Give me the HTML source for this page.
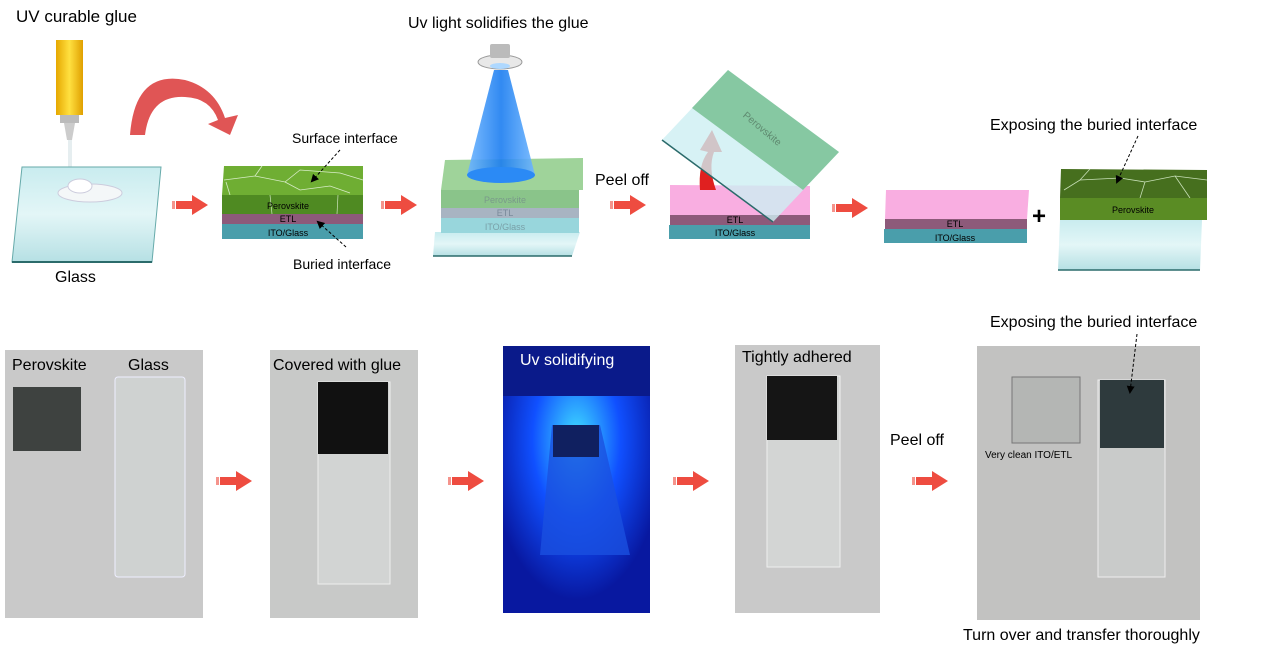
<!DOCTYPE html>
<html><head><meta charset="utf-8"><style>
html,body{margin:0;padding:0;background:#fff;}
svg{display:block;font-family:"Liberation Sans",Arial,sans-serif;}
</style></head><body>
<svg width="1280" height="655" viewBox="0 0 1280 655" xmlns="http://www.w3.org/2000/svg">
<defs>
<linearGradient id="gl" x1="0" y1="0" x2="0" y2="1"><stop offset="0" stop-color="#c9ecef"/><stop offset="0.5" stop-color="#e3f6f7"/><stop offset="1" stop-color="#b6e0e4"/></linearGradient>
<linearGradient id="tube" x1="0" y1="0" x2="1" y2="0"><stop offset="0" stop-color="#e6a800"/><stop offset="0.5" stop-color="#ffe040"/><stop offset="1" stop-color="#e0a000"/></linearGradient>
<linearGradient id="cone" x1="0" y1="0" x2="1" y2="0"><stop offset="0" stop-color="#6fb6ff"/><stop offset="0.5" stop-color="#1b7df0"/><stop offset="1" stop-color="#6fb6ff"/></linearGradient>
<radialGradient id="uvg" cx="0.5" cy="0.35" r="0.6"><stop offset="0" stop-color="#40e0ff"/><stop offset="0.5" stop-color="#1050ff"/><stop offset="1" stop-color="#0818a0"/></radialGradient>
<marker id="ah" markerWidth="8" markerHeight="8" refX="6" refY="4" orient="auto"><path d="M0,0 L8,4 L0,8 Z" fill="#000"/></marker>
<g id="rarr"><rect x="0" y="-4" width="3" height="8" fill="#ee4c40" opacity="0.6"/><rect x="4" y="-4" width="18" height="8" fill="#ee4c40"/><path d="M20,-10 L36,0 L20,10 Z" fill="#ee4c40"/></g>
</defs>

<text x="16" y="22" font-size="17">UV curable glue</text>
<rect x="56" y="40" width="27" height="75" fill="url(#tube)"/>
<rect x="60" y="115" width="19" height="8" fill="#bbb"/>
<path d="M64,123 L75,123 L72,140 L67,140 Z" fill="#ccc"/>
<rect x="68" y="140" width="4" height="40" fill="#e6eef0"/>
<path d="M22,167 L161,167 L152,262 L12,262 Z" fill="url(#gl)" stroke="#6aa" stroke-width="1"/>
<line x1="12" y1="262" x2="152" y2="262" stroke="#2b6b6b" stroke-width="2"/>
<ellipse cx="90" cy="193" rx="32" ry="9" fill="#f4f7f8" stroke="#ccd" stroke-width="1"/>
<ellipse cx="80" cy="186" rx="12" ry="7" fill="#fff" stroke="#ccd"/>
<text x="55" y="282" font-size="16">Glass</text>
<path d="M130,135 Q135,70 185,80 Q215,88 225,118 L238,115 L230,135 L208,124 L218,120 Q210,98 185,97 Q150,95 145,135 Z" fill="#e05555"/>

<use href="#rarr" x="172" y="205"/>
<use href="#rarr" x="381" y="205"/>
<use href="#rarr" x="610" y="205"/>
<use href="#rarr" x="832" y="208"/>

<path d="M224,166 L363,166 L363,195 L222,195 Z" fill="#6fae33"/>
<g stroke="#d8ecc8" stroke-width="0.8" fill="none"><path d="M224,180 L255,176 L285,182 L300,170 L340,173 L363,180"/><path d="M285,182 L300,190 L330,186 L350,193"/><path d="M230,195 L226,182"/><path d="M255,176 L262,166"/></g>
<rect x="222" y="195" width="141" height="19" fill="#4f8a22"/>
<line x1="270" y1="195" x2="272" y2="214" stroke="#cfe6c0" stroke-width="0.7"/><line x1="338" y1="195" x2="337" y2="214" stroke="#cfe6c0" stroke-width="0.7"/>
<rect x="222" y="214" width="141" height="10" fill="#8d5a7a"/>
<rect x="222" y="224" width="141" height="15" fill="#4a9eab"/>
<text x="288" y="209" font-size="9" text-anchor="middle">Perovskite</text>
<text x="288" y="222" font-size="9" text-anchor="middle">ETL</text>
<text x="288" y="236" font-size="9" text-anchor="middle">ITO/Glass</text>
<text x="292" y="143" font-size="14">Surface interface</text>
<text x="293" y="269" font-size="14">Buried interface</text>
<line x1="340" y1="150" x2="312" y2="181" stroke="#000" stroke-dasharray="3,2" marker-end="url(#ah)"/>
<line x1="346" y1="247" x2="318" y2="222" stroke="#000" stroke-dasharray="3,2" marker-end="url(#ah)"/>

<text x="408" y="28" font-size="16">Uv light solidifies the glue</text>
<path d="M435,232 L580,232 L572,256 L433,256 Z" fill="url(#gl)"/>
<line x1="433" y1="256" x2="572" y2="256" stroke="#2b6b6b" stroke-width="1.5"/>
<path d="M445,160 L583,158 L583,190 L441,190 Z" fill="#9fd39a"/>
<rect x="441" y="190" width="138" height="18" fill="#8ac48a"/>
<rect x="441" y="208" width="138" height="10" fill="#a8b4c2"/>
<rect x="441" y="218" width="138" height="15" fill="#98d6dc"/>
<text x="505" y="203" font-size="9" fill="#7a9a8a" text-anchor="middle">Perovskite</text>
<text x="505" y="216" font-size="9" fill="#7a8a9a" text-anchor="middle">ETL</text>
<text x="505" y="230" font-size="9" fill="#7aa0a8" text-anchor="middle">ITO/Glass</text>
<path d="M494,70 L508,70 L535,175 L467,175 Z" fill="url(#cone)" opacity="0.9"/>
<ellipse cx="501" cy="175" rx="34" ry="8" fill="#2b8af5"/>
<ellipse cx="500" cy="62" rx="22" ry="7" fill="#e8e8e8" stroke="#999"/>
<rect x="490" y="44" width="20" height="14" fill="#bbb" rx="2"/>
<ellipse cx="500" cy="66" rx="10" ry="3" fill="#aed8ff"/>

<text x="595" y="185" font-size="16">Peel off</text>

<path d="M670,185 L810,186 L810,215 L670,215 Z" fill="#f9aee1"/>
<rect x="670" y="215" width="140" height="10" fill="#8d5a7a"/>
<rect x="669" y="225" width="141" height="14" fill="#4a9eab"/>
<text x="735" y="223" font-size="9" text-anchor="middle">ETL</text>
<text x="735" y="236" font-size="9" text-anchor="middle">ITO/Glass</text>
<path d="M700,190 Q698,165 708,152 L700,150 L712,130 L722,152 L714,152 Q708,168 716,190 Z" fill="#e02020"/>
<path d="M728,70 L839,152 L773,222 L662,140 Z" fill="#cdeff2" opacity="0.8"/>
<path d="M728,70 L839,152 L803,190 L692,108 Z" fill="#7fc49a" opacity="0.92"/>
<line x1="662" y1="140" x2="773" y2="222" stroke="#2b6b6b" stroke-width="1.5"/>
<text x="730" y="130" font-size="10" fill="#5f8a70" transform="rotate(40 755 140)">Perovskite</text>

<path d="M886,190 L1029,190 L1027,219 L885,219 Z" fill="#f9aee1"/>
<rect x="885" y="219" width="142" height="10" fill="#8d5a7a"/>
<rect x="884" y="229" width="143" height="14" fill="#4a9eab"/>
<text x="955" y="227" font-size="9" text-anchor="middle">ETL</text>
<text x="955" y="241" font-size="9" text-anchor="middle">ITO/Glass</text>
<text x="1032" y="224" font-size="24" font-weight="bold">+</text>

<path d="M1061,169 L1207,170 L1207,198 L1060,198 Z" fill="#466f1e"/>
<g stroke="#c8e0b8" stroke-width="0.8" fill="none"><path d="M1064,190 L1080,180 L1120,178 L1145,182 L1175,176 L1207,180"/><path d="M1080,180 L1090,169"/><path d="M1145,182 L1140,198"/><path d="M1175,176 L1190,198"/></g>
<rect x="1060" y="198" width="147" height="22" fill="#5a8c24"/>
<text x="1133" y="213" font-size="9" text-anchor="middle">Perovskite</text>
<path d="M1060,220 L1202,220 L1200,270 L1058,270 Z" fill="url(#gl)"/>
<line x1="1058" y1="270" x2="1200" y2="270" stroke="#2b6b6b" stroke-width="1.5"/>
<text x="990" y="130" font-size="16">Exposing the buried interface</text>
<line x1="1138" y1="136" x2="1117" y2="182" stroke="#000" stroke-dasharray="3,2" marker-end="url(#ah)"/>

<rect x="5" y="350" width="198" height="268" fill="#c9c9c9"/>
<rect x="13" y="387" width="68" height="64" fill="#3e4240"/>
<rect x="115" y="377" width="70" height="200" rx="3" fill="#cfd2d1" stroke="#eef" stroke-width="1"/>
<text x="12" y="370" font-size="16">Perovskite</text>
<text x="128" y="370" font-size="16">Glass</text>
<use href="#rarr" x="216" y="481"/>

<rect x="270" y="350" width="148" height="268" fill="#c8c9c8"/>
<rect x="318" y="382" width="72" height="202" fill="#d2d4d3" stroke="#eee"/>
<rect x="318" y="382" width="70" height="72" fill="#111"/>
<text x="273" y="370" font-size="16">Covered with glue</text>
<use href="#rarr" x="448" y="481"/>

<rect x="503" y="346" width="147" height="267" fill="url(#uvg)"/>
<rect x="503" y="346" width="147" height="50" fill="#0a1a8a"/>
<path d="M552,425 L600,425 L630,555 L540,555 Z" fill="#1a50e0" opacity="0.8"/>
<rect x="553" y="425" width="46" height="32" fill="#102060"/>
<text x="520" y="365" font-size="16" fill="#fff">Uv solidifying</text>
<use href="#rarr" x="673" y="481"/>

<rect x="735" y="345" width="145" height="268" fill="#c9c9c9"/>
<rect x="767" y="376" width="73" height="191" fill="#d3d5d4" stroke="#eee"/>
<rect x="767" y="376" width="70" height="64" fill="#151515"/>
<text x="742" y="362" font-size="16">Tightly adhered</text>
<text x="890" y="445" font-size="16">Peel off</text>
<use href="#rarr" x="912" y="481"/>

<rect x="977" y="346" width="223" height="274" fill="#c2c2c1"/>
<rect x="1012" y="377" width="68" height="66" fill="#b4b6b4" stroke="#777"/>
<rect x="1098" y="380" width="67" height="197" fill="#c9cbca" stroke="#eee"/>
<rect x="1100" y="380" width="64" height="68" fill="#2e3a3d"/>
<text x="985" y="458" font-size="10">Very clean ITO/ETL</text>
<text x="990" y="327" font-size="16">Exposing the buried interface</text>
<line x1="1137" y1="334" x2="1130" y2="392" stroke="#000" stroke-dasharray="3,2" marker-end="url(#ah)"/>
<text x="963" y="640" font-size="16">Turn over and transfer thoroughly</text>
</svg>
</body></html>
